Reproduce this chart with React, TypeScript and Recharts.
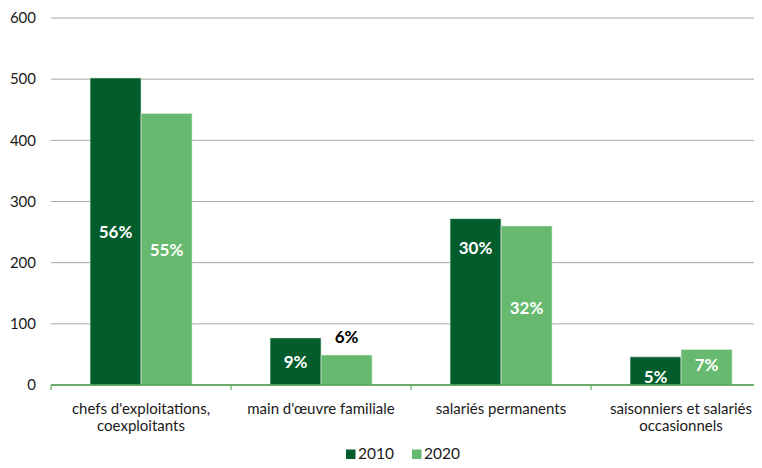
import { Bar, BarChart, CartesianGrid, LabelList, XAxis, YAxis } from "recharts";

const categories = [
  "chefs d'exploitations,\ncoexploitants",
  "main d'œuvre familiale",
  "salariés permanents",
  "saisonniers et salariés\noccasionnels",
];
const values2010 = [502, 77, 272, 46];
const values2020 = [444, 49, 260, 58];
const shares2010 = ["56%", "9%", "30%", "5%"];
const shares2020 = ["55%", "6%", "32%", "7%"];
const yTicks = [0, 100, 200, 300, 400, 500, 600];
const seriesNames = ["2010", "2020"];

// label nudges (px from bar middle); "top" puts the label above the bar in black
const nudge2010: (number | "top")[] = [0, 0, -54, 6];
const nudge2020: (number | "top")[] = [0, "top", 2, -3];

const DARK = "#025c2c";
const LIGHT = "#66b96f";
const AXIS = "#4a9e4a";
const FONT = "Lato, 'Open Sans', sans-serif";

// the plot runs past the right edge of the picture, so the chart is wider than the frame
const VIEW_W = 762;
const WIDTH = 780;
const HEIGHT = 468;
const MARGIN = { top: 18, right: 9, left: 0, bottom: 30 };
const Y_WIDTH = 51;
const BAND = (WIDTH - MARGIN.right - MARGIN.left - Y_WIDTH) / categories.length;

const data = categories.map((name, i) => ({
  name,
  v2010: values2010[i],
  v2020: values2020[i],
  s2010: shares2010[i],
  s2020: shares2020[i],
}));

function makeLabel(nudges: (number | "top")[]) {
  return (props: any) => {
    const { x, y, width, height, value, index } = props;
    const n = nudges[index];
    const cx = Number(x) + Number(width) / 2;
    const above = n === "top";
    const cy = above ? Number(y) - 19 : Number(y) + Number(height) / 2 + (n as number);
    return (
      <text
        x={cx}
        y={cy}
        textAnchor="middle"
        dominantBaseline="central"
        fill={above ? "#000" : "#fff"}
        fontFamily={FONT}
        fontWeight={700}
        fontSize={17}
      >
        {value}
      </text>
    );
  };
}

function CategoryTick(props: any) {
  const { x, y, payload, index } = props;
  const lines = String(payload.value).split("\n");
  return (
    <g>
      <line x1={x - BAND / 2} x2={x - BAND / 2} y1={y} y2={y + 5} stroke={AXIS} />
      {index === categories.length - 1 && (
        <line x1={x + BAND / 2} x2={x + BAND / 2} y1={y} y2={y + 5} stroke={AXIS} />
      )}
      {lines.map((line, i) => (
        <text
          key={i}
          x={x}
          y={y + 23 + i * 17}
          textAnchor="middle"
          dominantBaseline="central"
          fill="#1a1a1a"
          fontFamily={FONT}
          fontSize={15}
        >
          {line}
        </text>
      ))}
    </g>
  );
}

export default function App() {
  const legendX = [346, 412];
  return (
    <div
      style={{
        margin: -8,
        width: VIEW_W,
        height: HEIGHT,
        position: "relative",
        overflow: "hidden",
        background: "#fff",
      }}
    >
      <BarChart
        width={WIDTH}
        height={HEIGHT}
        data={data}
        margin={MARGIN}
        barCategoryGap="21.7%"
        barGap={0}
      >
        <CartesianGrid vertical={false} stroke="#a6a6a6" />
        <XAxis
          dataKey="name"
          height={53}
          interval={0}
          tickSize={0}
          tickMargin={0}
          tickLine={false}
          axisLine={{ stroke: AXIS, strokeWidth: 1.5 }}
          tick={<CategoryTick />}
        />
        <YAxis
          width={Y_WIDTH}
          domain={[0, 600]}
          ticks={yTicks}
          axisLine={false}
          tickLine={false}
          tickSize={0}
          tickMargin={15}
          tick={{ fill: "#1a1a1a", fontFamily: FONT, fontSize: 15 }}
        />
        <Bar dataKey="v2010" fill={DARK} stroke="#dfeee0" strokeWidth={0.6} isAnimationActive={false}>
          <LabelList dataKey="s2010" content={makeLabel(nudge2010)} />
        </Bar>
        <Bar dataKey="v2020" fill={LIGHT} stroke="#dfeee0" strokeWidth={0.6} isAnimationActive={false}>
          <LabelList dataKey="s2020" content={makeLabel(nudge2020)} />
        </Bar>
      </BarChart>
      <svg
        width={VIEW_W}
        height={HEIGHT}
        style={{ position: "absolute", left: 0, top: 0, pointerEvents: "none" }}
      >
        {seriesNames.map((name, i) => (
          <g key={name}>
            <rect x={legendX[i]} y={449.5} width={9.5} height={9.5} fill={i === 0 ? DARK : LIGHT} />
            <text
              x={legendX[i] + 12}
              y={459}
              fill="#1a1a1a"
              fontFamily={FONT}
              fontSize={15.5}
            >
              {name}
            </text>
          </g>
        ))}
      </svg>
    </div>
  );
}
